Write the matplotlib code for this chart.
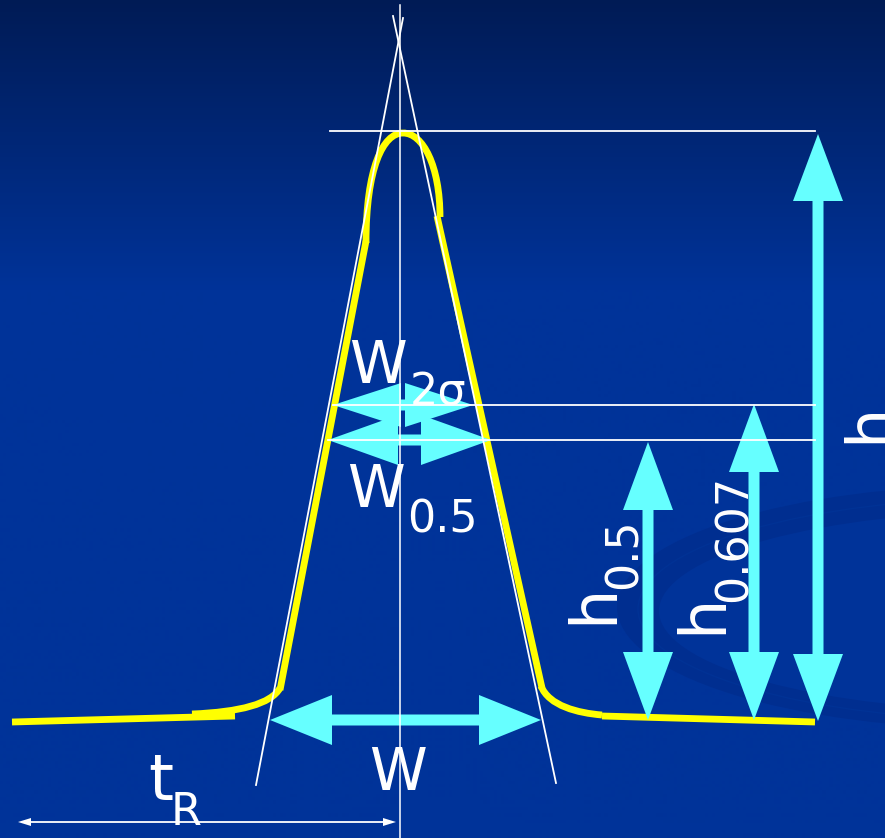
import numpy as np
import matplotlib
matplotlib.use("Agg")
import matplotlib.pyplot as plt
from matplotlib.patches import Polygon, Ellipse, PathPatch
from matplotlib.path import Path

# ---------------- diagram values (picture units, y grows downwards) ----------------
W_PX, H_PX = 885, 838
t_R = 400                 # retention time (peak centre)
apex_y = 131              # peak height level
level_0607_y = 405        # 0.607 h level (width 2 sigma)
level_05_y = 440          # 0.5 h level (half-height width)
right_end_x = 815

# yellow chromatographic trace, drawn as separate strokes
base_left_x = [12, 235]
base_left_y = [722, 716]
tail_left_x = [192, 240, 271, 280]        # cubic Bezier: start, ctrl, ctrl, end
tail_left_y = [714, 712, 704, 688]
flank_left_x = [280, 366]
flank_left_y = [690, 241]
cap_left_x = [366, 366, 383, 403]         # cubic Bezier
cap_left_y = [243, 168, 133, 133]
cap_right_x = [403, 423, 440, 440]        # cubic Bezier
cap_right_y = [133, 133, 166, 217]
flank_right_x = [437, 542]
flank_right_y = [216, 688]
tail_right_x = [541, 549, 578, 602]       # cubic Bezier
tail_right_y = [686, 706, 713, 715]
base_right_x = [602, 815]
base_right_y = [716, 722]

# tangent (inflection) lines
tangent_left_x = [403, 256]
tangent_left_y = [18, 785]
tangent_right_x = [393, 556]
tangent_right_y = [16, 783]

# horizontal reference lines: (x_start, y)
ref_line_x0 = [330, 333, 328]
ref_line_y = [apex_y, level_0607_y, level_05_y]

# cyan double arrows: start, end, head half-width, head length
arrow_names = ["W", "W2s", "W05", "h05", "h0607", "h"]
arrow_p0 = [(270, 720), (333, 405), (328, 440), (648, 442), (754, 404), (818, 134)]
arrow_p1 = [(541, 720), (473, 405), (491, 440), (648, 720), (754, 720), (818, 721)]
arrow_hw = [25, 22, 25, 25, 25, 25]
arrow_hl = [62, 68, 70, 68, 68, 67]

# colours
bg_top = np.array([0, 27, 85]) / 255
bg_bottom = np.array([0, 51, 153]) / 255
swoosh_col = np.array([0, 46, 144]) / 255
yellow = "#ffff00"
cyan = "#66ffff"

# ---------------- figure ----------------
fig = plt.figure(figsize=(W_PX / 100, H_PX / 100), dpi=100)
ax = fig.add_axes([0, 0, 1, 1])
ax.set_xlim(0, W_PX)
ax.set_ylim(H_PX, 0)
ax.axis("off")

# background gradient
ys = np.arange(H_PX)
t = np.clip(ys / 290.0, 0, 1)[:, None]
grad = (bg_top[None, :] * (1 - t) + bg_bottom[None, :] * t)[:, None, :]
ax.imshow(grad, extent=(0, W_PX, H_PX, 0), aspect="auto", origin="upper", zorder=0)
ax.set_xlim(0, W_PX)
ax.set_ylim(H_PX, 0)

# faint swoosh
ax.add_patch(Ellipse((1000, 607), 766, 244, facecolor=swoosh_col, edgecolor="none", zorder=0.5))
ax.add_patch(Ellipse((1022, 611), 726, 200, facecolor=bg_bottom, edgecolor="none", zorder=0.6))
ax.add_patch(Ellipse((1011, 609), 746, 222, facecolor="none", edgecolor=(0.0, 0.195, 0.585),
                     lw=1.0, zorder=0.7))

# yellow trace
lw_y = 4.9
for xs, yv in [(base_left_x, base_left_y), (flank_left_x, flank_left_y),
               (flank_right_x, flank_right_y), (base_right_x, base_right_y)]:
    ax.plot(xs, yv, color=yellow, lw=lw_y, solid_capstyle="butt", zorder=2)

bez = [Path.MOVETO, Path.CURVE4, Path.CURVE4, Path.CURVE4]
for xs, yv in [(tail_left_x, tail_left_y), (cap_left_x, cap_left_y),
               (cap_right_x, cap_right_y), (tail_right_x, tail_right_y)]:
    ax.add_patch(PathPatch(Path(np.column_stack([xs, yv]), bez), facecolor="none",
                           edgecolor=yellow, lw=lw_y, capstyle="butt", zorder=2))


def double_arrow(p0, p1, sw, hw, hl, color, z):
    p0 = np.asarray(p0, float)
    p1 = np.asarray(p1, float)
    d = p1 - p0
    u = d / np.linalg.norm(d)
    n = np.array([-u[1], u[0]])
    pts = [p0, p0 + u * hl + n * hw, p0 + u * hl + n * sw / 2,
           p1 - u * hl + n * sw / 2, p1 - u * hl + n * hw, p1,
           p1 - u * hl - n * hw, p1 - u * hl - n * sw / 2,
           p0 + u * hl - n * sw / 2, p0 + u * hl - n * hw]
    ax.add_patch(Polygon(pts, closed=True, facecolor=color, edgecolor="none", zorder=z))


for p0, p1, hw, hl in zip(arrow_p0, arrow_p1, arrow_hw, arrow_hl):
    double_arrow(p0, p1, 11, hw, hl, cyan, 3)

# white construction lines
wl = 1.3
ax.plot([t_R, t_R], [5, H_PX], color="white", lw=1.1, zorder=4)
ax.plot(tangent_left_x, tangent_left_y, color="white", lw=wl, zorder=4)
ax.plot(tangent_right_x, tangent_right_y, color="white", lw=wl, zorder=4)
for x0, yv in zip(ref_line_x0, ref_line_y):
    ax.plot([x0, right_end_x], [yv, yv], color="white", lw=wl, zorder=4)

# t_R arrow (white, thin)
ax.plot([24, 389], [822, 822], color="white", lw=1.3, zorder=4)
ax.add_patch(Polygon([(18, 822), (31, 818), (31, 826)], closed=True, fc="white", ec="none", zorder=4))
ax.add_patch(Polygon([(396, 822), (383, 818), (383, 826)], closed=True, fc="white", ec="none", zorder=4))

# labels
fam = ["DejaVu Sans"]
big, wbig, small = 46, 42, 32
tk = dict(color="white", family=fam, zorder=5)
ax.text(378, 383, "W", fontsize=wbig, ha="center", va="baseline", **tk)
ax.text(410, 405, "2σ", fontsize=small, ha="left", va="baseline", **tk)
ax.text(376, 507, "W", fontsize=wbig, ha="center", va="baseline", **tk)
ax.text(407, 532, "0.5", fontsize=small, ha="left", va="baseline", **tk)
ax.text(398, 790, "W", fontsize=wbig, ha="center", va="baseline", **tk)
ax.text(148, 800, "t", fontsize=big, ha="left", va="baseline", **tk)
ax.text(171, 825, "R", fontsize=small, ha="left", va="baseline", **tk)

rot = dict(rotation=90, rotation_mode="anchor", ha="left", va="baseline")
ax.text(612, 624, "h", fontsize=big, **rot, **tk)
ax.text(637, 589, "0.5", fontsize=small, **rot, **tk)
ax.text(721, 634, "h", fontsize=big, **rot, **tk)
ax.text(747, 602, "0.607", fontsize=small, **rot, **tk)
ax.text(888, 443, "h", fontsize=big, **rot, **tk)

fig.savefig("out.png", dpi=100)
